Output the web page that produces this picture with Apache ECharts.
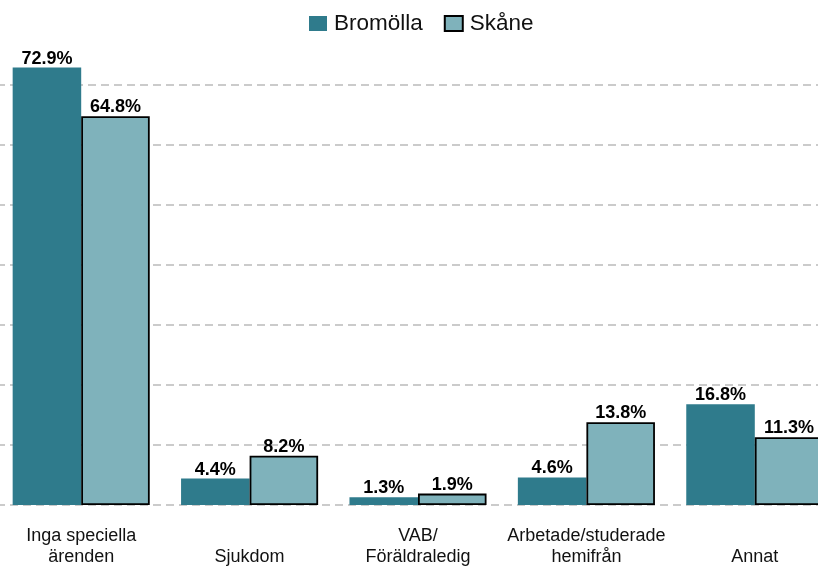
<!DOCTYPE html>
<html>
<head>
<meta charset="utf-8">
<script src="https://cdn.jsdelivr.net/npm/echarts@6/dist/echarts.min.js"></script>
<style>
  html, body { margin: 0; padding: 0; background: #fff; overflow: hidden; }
  #chart { position: absolute; left: -3px; top: 0; width: 842px; height: 566px; }
</style>
</head>
<body>
<div id="chart"></div>
<script>
// kategorier och värden (procent)
var categories = ['Inga speciella\närenden', 'Sjukdom', 'VAB/\nFöräldraledig', 'Arbetade/studerade\nhemifrån', 'Annat'];
var seriesNames = ['Bromölla', 'Skåne'];
var bromollaValues = [72.9, 4.4, 1.3, 4.6, 16.8];
var skaneValues = [64.8, 8.2, 1.9, 13.8, 11.3];

var chart = echarts.init(document.getElementById('chart'));

var labelStyle = {
  show: true,
  position: 'top',
  distance: 0,
  color: '#000',
  fontFamily: 'Liberation Sans, Arial, sans-serif',
  fontWeight: 'bold',
  fontSize: 18,
  formatter: function (p) { return p.value.toFixed(1) + '%'; }
};

var option = {
  animation: false,
  textStyle: { fontFamily: 'Liberation Sans, Arial, sans-serif' },
  legend: {
    left: 307,
    top: 7,
    itemGap: 21,
    itemWidth: 18,
    itemHeight: 15,
    icon: 'rect',
    textStyle: { fontSize: 22.5, color: '#111', padding: [0, 0, 0, 2] },
    data: seriesNames
  },
  grid: {
    left: 0,
    right: 0,
    top: 25,
    bottom: 61,
    outerBoundsMode: 'none',
    containLabel: false
  },
  xAxis: {
    type: 'category',
    data: categories,
    axisLine: { show: false },
    axisTick: { show: false },
    axisLabel: {
      interval: 0,
      margin: 21,
      fontSize: 18,
      lineHeight: 21,
      color: '#111',
      formatter: function (v) {
        return v.indexOf('\n') < 0 ? '\n' + v : v;
      }
    }
  },
  yAxis: {
    type: 'value',
    min: 0,
    max: 80,
    interval: 10,
    axisLabel: { show: false },
    axisLine: { show: false },
    axisTick: { show: false },
    splitLine: {
      show: true,
      showMaxLine: false,
      lineStyle: { color: '#bbbbbb', width: 1.5, type: [8, 5] }
    }
  },
  series: [
    {
      name: seriesNames[0],
      type: 'bar',
      barGap: '0%',
      barCategoryGap: '18.6%',
      data: bromollaValues,
      itemStyle: { color: '#2f7b8c' },
      label: labelStyle
    },
    {
      name: seriesNames[1],
      type: 'bar',
      data: skaneValues,
      itemStyle: { color: '#7fb2bb', borderColor: '#000', borderWidth: 1.8 },
      label: labelStyle
    }
  ]
};

chart.setOption(option);
</script>
</body>
</html>
